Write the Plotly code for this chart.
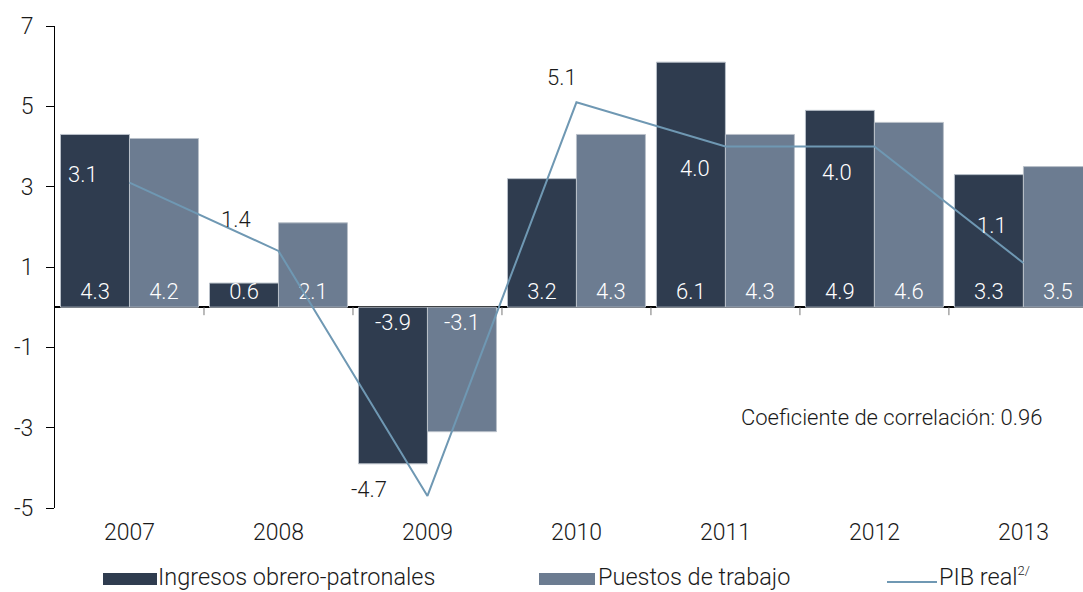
import plotly.graph_objects as go

# ---------------- data ----------------
years = ["2007", "2008", "2009", "2010", "2011", "2012", "2013"]
ingresos = [4.3, 0.6, -3.9, 3.2, 6.1, 4.9, 3.3]
puestos = [4.2, 2.1, -3.1, 4.3, 4.3, 4.6, 3.5]
pib = [3.1, 1.4, -4.7, 5.1, 4.0, 4.0, 1.1]
y_ticks = [7, 5, 3, 1, -1, -3, -5]
series_names = ["Ingresos obrero-patronales", "Puestos de trabajo",
                "PIB real<sup><span style='font-size:13px'>2/</span></sup>"]
note_text = "Coeficiente de correlación: 0.96"

# ---------------- styles ----------------
DARK = "#2F3C4F"
LIGHT = "#6C7C91"
LINE = "#6F98B3"
TXT = "#1a1a1a"
FONT = "Roboto"
FS_TICK = 23
FS_LBL = 22
FS_LEG = 23.5

# label offsets (px) for PIB labels, relative to the point
pib_dx = [-46, -42, -58, -14, -30, -37, -31]
pib_dy = [8, 31, 6, 25, -22, -26, 37]
pib_col = ["white", TXT, TXT, TXT, "white", "white", "white"]

W, H = 1083, 592
L, R, T, B = 55, 0, 26, 84
PW, PH = W - L - R, H - T - B


def px_x(p):
    return (p - L) / PW


def px_y(p):
    return (H - B - p) / PH


fig = go.Figure()
bar_line = dict(color="#b9c0c9", width=1)
for vals, nm, col in [(ingresos, series_names[0], DARK), (puestos, series_names[1], LIGHT)]:
    fig.add_trace(go.Bar(
        x=years, y=vals, name=nm, marker=dict(color=col, line=bar_line),
        texttemplate="%{y:.1f}", textposition="inside", insidetextanchor="start",
        textfont=dict(color="white", size=FS_LBL, family=FONT, weight=300),
        constraintext="none", showlegend=False, hoverinfo="skip",
    ))
fig.add_trace(go.Scatter(
    x=years, y=pib, name="PIB real", mode="lines",
    line=dict(color=LINE, width=2), showlegend=False, hoverinfo="skip",
))

annotations = []
for i, v in enumerate(pib):
    annotations.append(dict(
        x=i, y=v, xref="x", yref="y", text=f"{v:.1f}", showarrow=False,
        xanchor="center", yanchor="middle",
        xshift=pib_dx[i], yshift=pib_dy[i],
        font=dict(color=pib_col[i], size=FS_LBL, family=FONT, weight=300),
    ))

annotations.append(dict(
    x=px_x(891), y=px_y(417), xref="paper", yref="paper", text=note_text,
    xanchor="center", yanchor="middle",
    showarrow=False, font=dict(color=TXT, size=22, family=FONT, weight=300),
))

# custom legend
shapes = []
leg_y = 577
sw = [(103, 157, DARK), (539, 595, LIGHT)]
for x0, x1, c in sw:
    shapes.append(dict(type="rect", xref="paper", yref="paper",
                       x0=px_x(x0), x1=px_x(x1), y0=px_y(585), y1=px_y(573),
                       fillcolor=c, line=dict(width=0)))
shapes.append(dict(type="line", xref="paper", yref="paper",
                   x0=px_x(887), x1=px_x(937), y0=px_y(582), y1=px_y(582),
                   line=dict(color=LINE, width=2)))
for xt, name in zip([156, 596, 937], series_names):
    annotations.append(dict(
        x=px_x(xt), y=px_y(leg_y), xref="paper", yref="paper", text=name,
        xanchor="left", yanchor="middle", showarrow=False,
        font=dict(color=TXT, size=FS_LEG, family=FONT, weight=300),
    ))

# tick marks on the zero line at category boundaries
for i in range(len(years) - 1):
    shapes.append(dict(type="line", xref="x", yref="y",
                       x0=i + 0.5, x1=i + 0.5, y0=0, y1=-0.2,
                       line=dict(color="#777", width=1)))

fig.update_layout(
    width=W, height=H,
    margin=dict(l=L, r=R, t=T, b=B, pad=0),
    plot_bgcolor="white", paper_bgcolor="white",
    barmode="group", bargap=0.074, bargroupgap=0,
    font=dict(family=FONT, size=FS_TICK, color=TXT, weight=300),
    xaxis=dict(type="category", range=[-0.5, 6.4], showline=False, ticks="",
               showgrid=False, zeroline=False, ticklabelstandoff=8,
               tickfont=dict(size=FS_TICK, color=TXT, family=FONT, weight=300)),
    yaxis=dict(range=[-5, 7], tickvals=y_ticks, ticktext=[str(t) for t in y_ticks],
               showline=True, linecolor="black", linewidth=1,
               ticks="outside", ticklen=8, tickcolor="black", tickwidth=1,
               showgrid=False, zeroline=True, zerolinecolor="black", zerolinewidth=1.5,
               ticklabelstandoff=8,
               tickfont=dict(size=FS_TICK, color=TXT, family=FONT, weight=300)),
    annotations=annotations,
    shapes=shapes,
)

fig.write_html(
    "out.html",
    config={"displayModeBar": False},
    post_script="document.body.style.margin='0';document.body.style.overflow='hidden';",
)
